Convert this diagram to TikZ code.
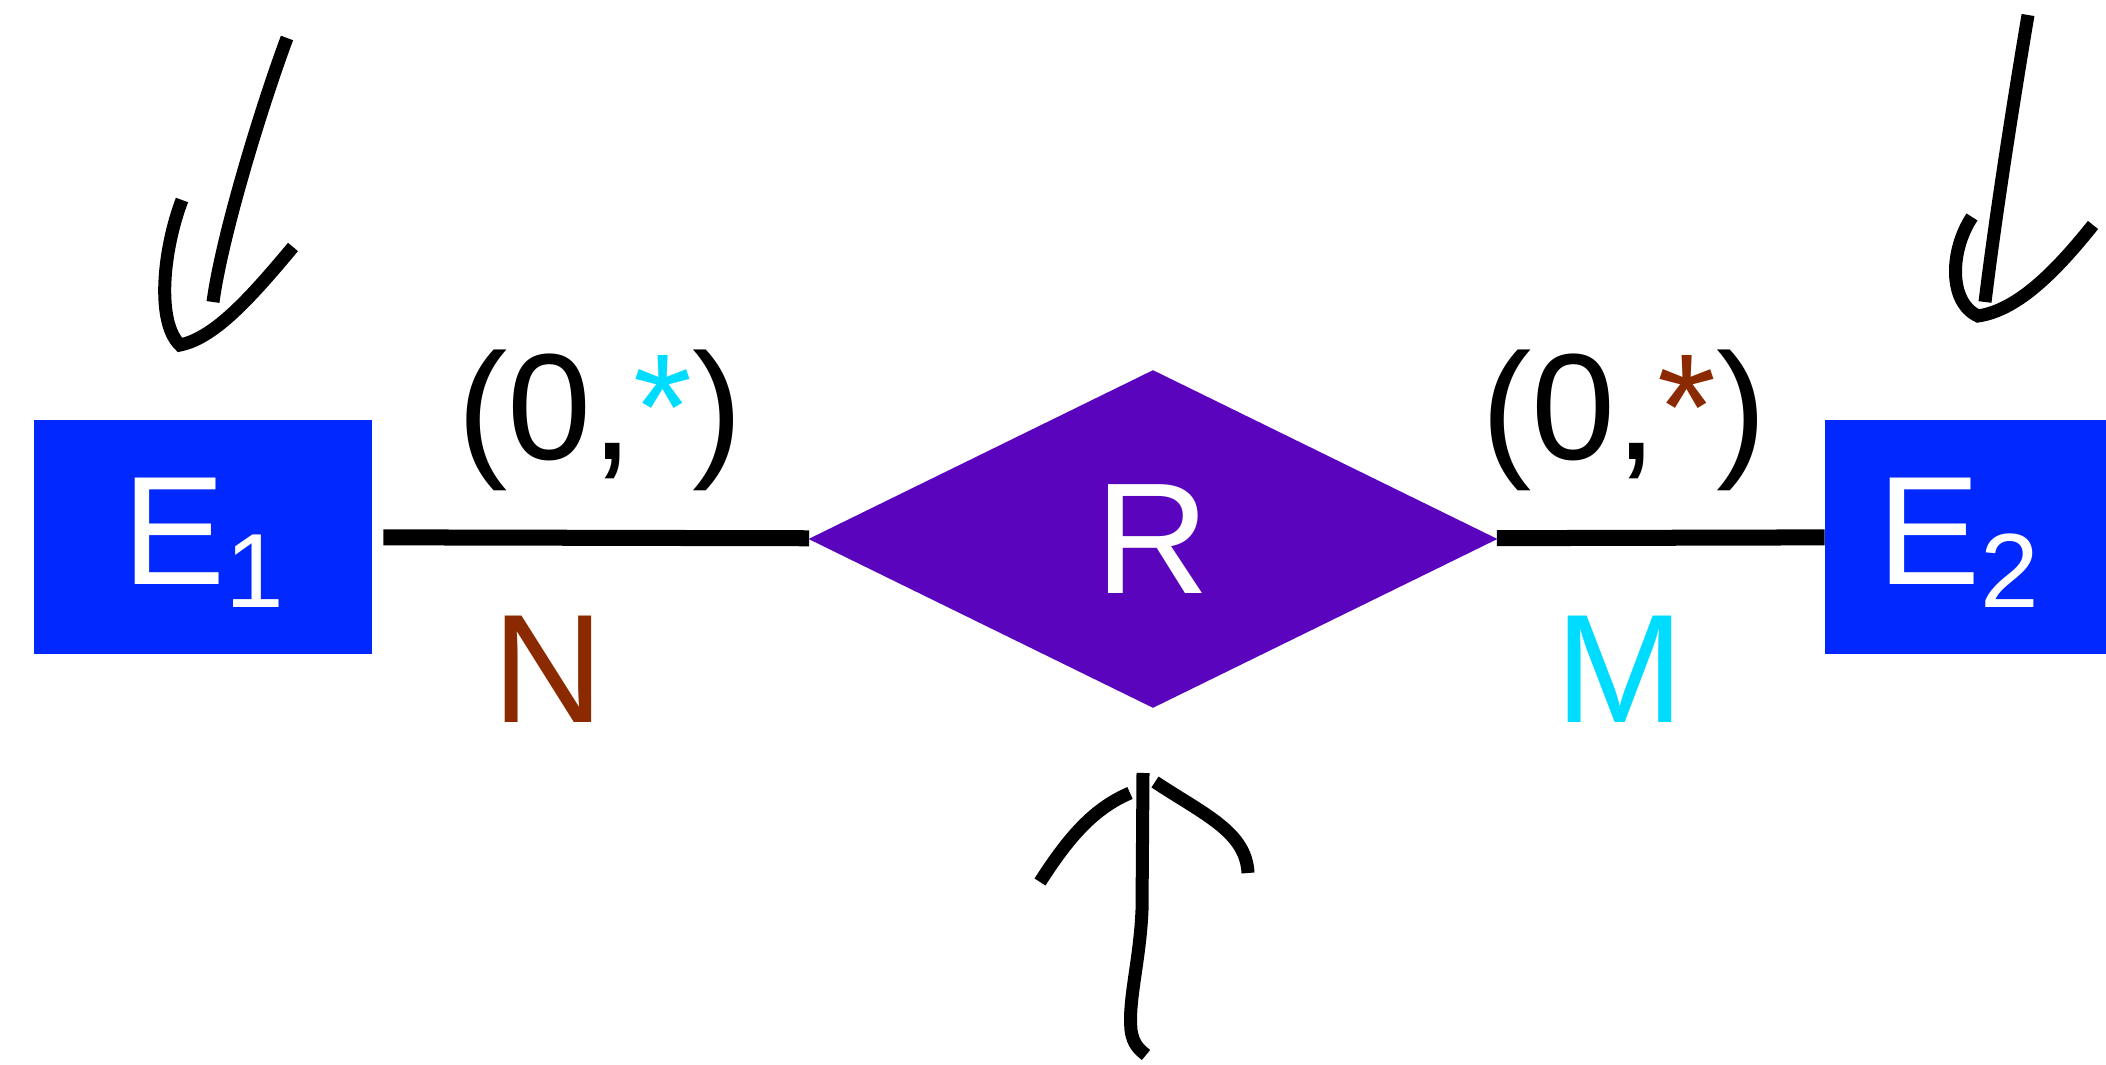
\documentclass[tikz,border=0pt]{standalone}
\usepackage{fontspec}
\setmainfont{Liberation Sans}
\usepackage{xcolor}
\usetikzlibrary{shapes.geometric,positioning}
\definecolor{entblue}{HTML}{0028FF}
\definecolor{relpurple}{HTML}{5A04BE}
\definecolor{cardbrown}{HTML}{8B2A00}
\definecolor{cardcyan}{HTML}{00DCFF}
\newcommand{\entsub}[1]{\raisebox{-0.23cm}{\fontsize{30}{30}\selectfont #1}}
\tikzset{
  entity/.style={rectangle,fill=entblue,text=white,minimum width=3.37cm,
                 minimum height=2.34cm,inner sep=0pt,text depth=0.12cm,
                 font=\fontsize{44}{44}\selectfont},
  relation/.style={diamond,fill=relpurple,text=white,minimum width=6.89cm,
                   minimum height=3.38cm,inner sep=0pt,
                   font=\fontsize{45}{45}\selectfont},
  card/.style={anchor=base,inner sep=0pt,font=\fontsize{43}{43}\selectfont},
  mult/.style={anchor=base,inner sep=0pt,font=\fontsize{44}{44}\selectfont},
  conn/.style={line width=0.16cm},
  scribble/.style={line width=0.13cm}
}

\begin{document}
\begin{tikzpicture}[x=0.01cm,y=-0.01cm]
  \useasboundingbox (0,0) rectangle (2106,1065);
  % entities and relationship
  \node[entity] (e1) at (203,537) {E\entsub{1}};
  \node[relation] (r) at (1153,539) {R};
  \node[entity,text width=2.33cm,align=left,inner xsep=0.52cm]
    (e2) at (1994,537) {E\entsub{2}};
  \draw[conn,shorten <=0.11cm] (e1) -- (r);
  \draw[conn] (r) -- (e2);
  % cardinalities
  \node[card] (c1) at (600,460) {(0,\textcolor{cardcyan}{*})};
  \node[card] (c2) at (1624,460) {(0,\textcolor{cardbrown}{*})};
  \node[mult,text=cardbrown] (n) at (548,723) {N};
  \node[mult,text=cardcyan] (m) at (1620,723) {M};
  % hand drawn arrows
  \draw[scribble] (287,38) .. controls (262,105) and (222,235) .. (213,302);
  \draw[scribble] (182,200) .. controls (163,250) and (156,322) .. (180,345)
    .. controls (215,338) and (252,296) .. (293,247);
  \draw[scribble] (2028,15) .. controls (2012,110) and (1995,220) .. (1985,302);
  \draw[scribble] (1972,217) .. controls (1950,250) and (1948,302) .. (1978,316)
    .. controls (2020,310) and (2060,266) .. (2093,225);
  \draw[scribble] (1143,773) -- (1142,910) .. controls (1140,960) and (1128,1000)
    .. (1131,1030) .. controls (1133,1045) and (1140,1050) .. (1146,1055);
  \draw[scribble] (1040,882) .. controls (1070,835) and (1095,808) .. (1130,793);
  \draw[scribble] (1155,782) .. controls (1205,815) and (1246,832) .. (1248,873);
\end{tikzpicture}
\end{document}
